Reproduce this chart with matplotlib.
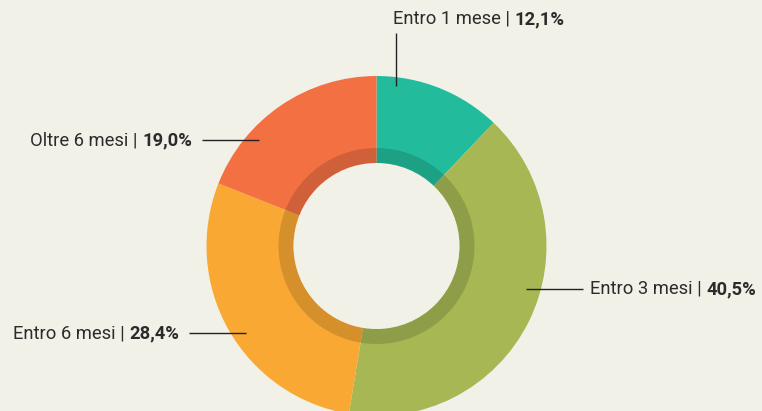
import matplotlib.pyplot as plt
from matplotlib.patches import Wedge, Circle

labels = ['Entro 1 mese', 'Entro 3 mesi', 'Entro 6 mesi', 'Oltre 6 mesi']
values = [12.1, 40.5, 28.4, 19.0]
value_texts = ['12,1%', '40,5%', '28,4%', '19,0%']
colors = ['#22bc9c', '#a6b753', '#f9a834', '#f37043']

BG = '#f2f1e8'
W, H = 762, 411
CX, CY = 376.5, 165
R_OUT, R_BAND, R_IN = 170, 98, 83

fig = plt.figure(figsize=(W / 100, H / 100), dpi=100, facecolor=BG)
ax = fig.add_axes([0, 0, 1, 1])
ax.set_facecolor(BG)

wedges, _ = ax.pie(values, colors=colors, startangle=90, counterclock=False,
                   center=(CX, CY), radius=R_OUT, frame=True,
                   wedgeprops=dict(linewidth=0))
ax.set_xlim(0, W)
ax.set_ylim(0, H)
ax.set_aspect('equal')
ax.axis('off')

# darker inner band, then the hole
for w in wedges:
    ax.add_patch(Wedge((CX, CY), R_BAND, w.theta1, w.theta2, width=R_BAND - R_IN,
                       facecolor='black', alpha=0.14, linewidth=0))
ax.add_patch(Circle((CX, CY), R_IN, facecolor=BG, linewidth=0))

# label layout: (text anchor x, text y, ha, leader line)
layout = [
    (393, 392, 'left', ((396, 396), (378, 325))),
    (590, 122, 'left', ((526, 583), (122, 122))),
    (179, 78, 'right', ((189, 246), (78, 78))),
    (192, 271, 'right', ((202, 259), (271, 271))),
]

fig.canvas.draw()
r = fig.canvas.get_renderer()
font = dict(family=['Roboto', 'DejaVu Sans'], fontsize=13.2, color='#2b2b2b')
for lab, val, (tx, ty, ha, (lx, ly)) in zip(labels, value_texts, layout):
    ax.plot(lx, ly, color='#222222', lw=1.0, solid_capstyle='butt')
    if ha == 'left':
        t1 = ax.text(tx, ty, lab + ' | ', ha='left', va='center', **font)
        ext = t1.get_window_extent(r)
        ax.text(ext.x1, ty, val, ha='left', va='center', fontweight='bold', **font)
    else:
        t2 = ax.text(tx, ty, val, ha='right', va='center', fontweight='bold', **font)
        ext = t2.get_window_extent(r)
        ax.text(ext.x0, ty, lab + ' | ', ha='right', va='center', **font)

fig.savefig('out.png', dpi=100, facecolor=BG)
